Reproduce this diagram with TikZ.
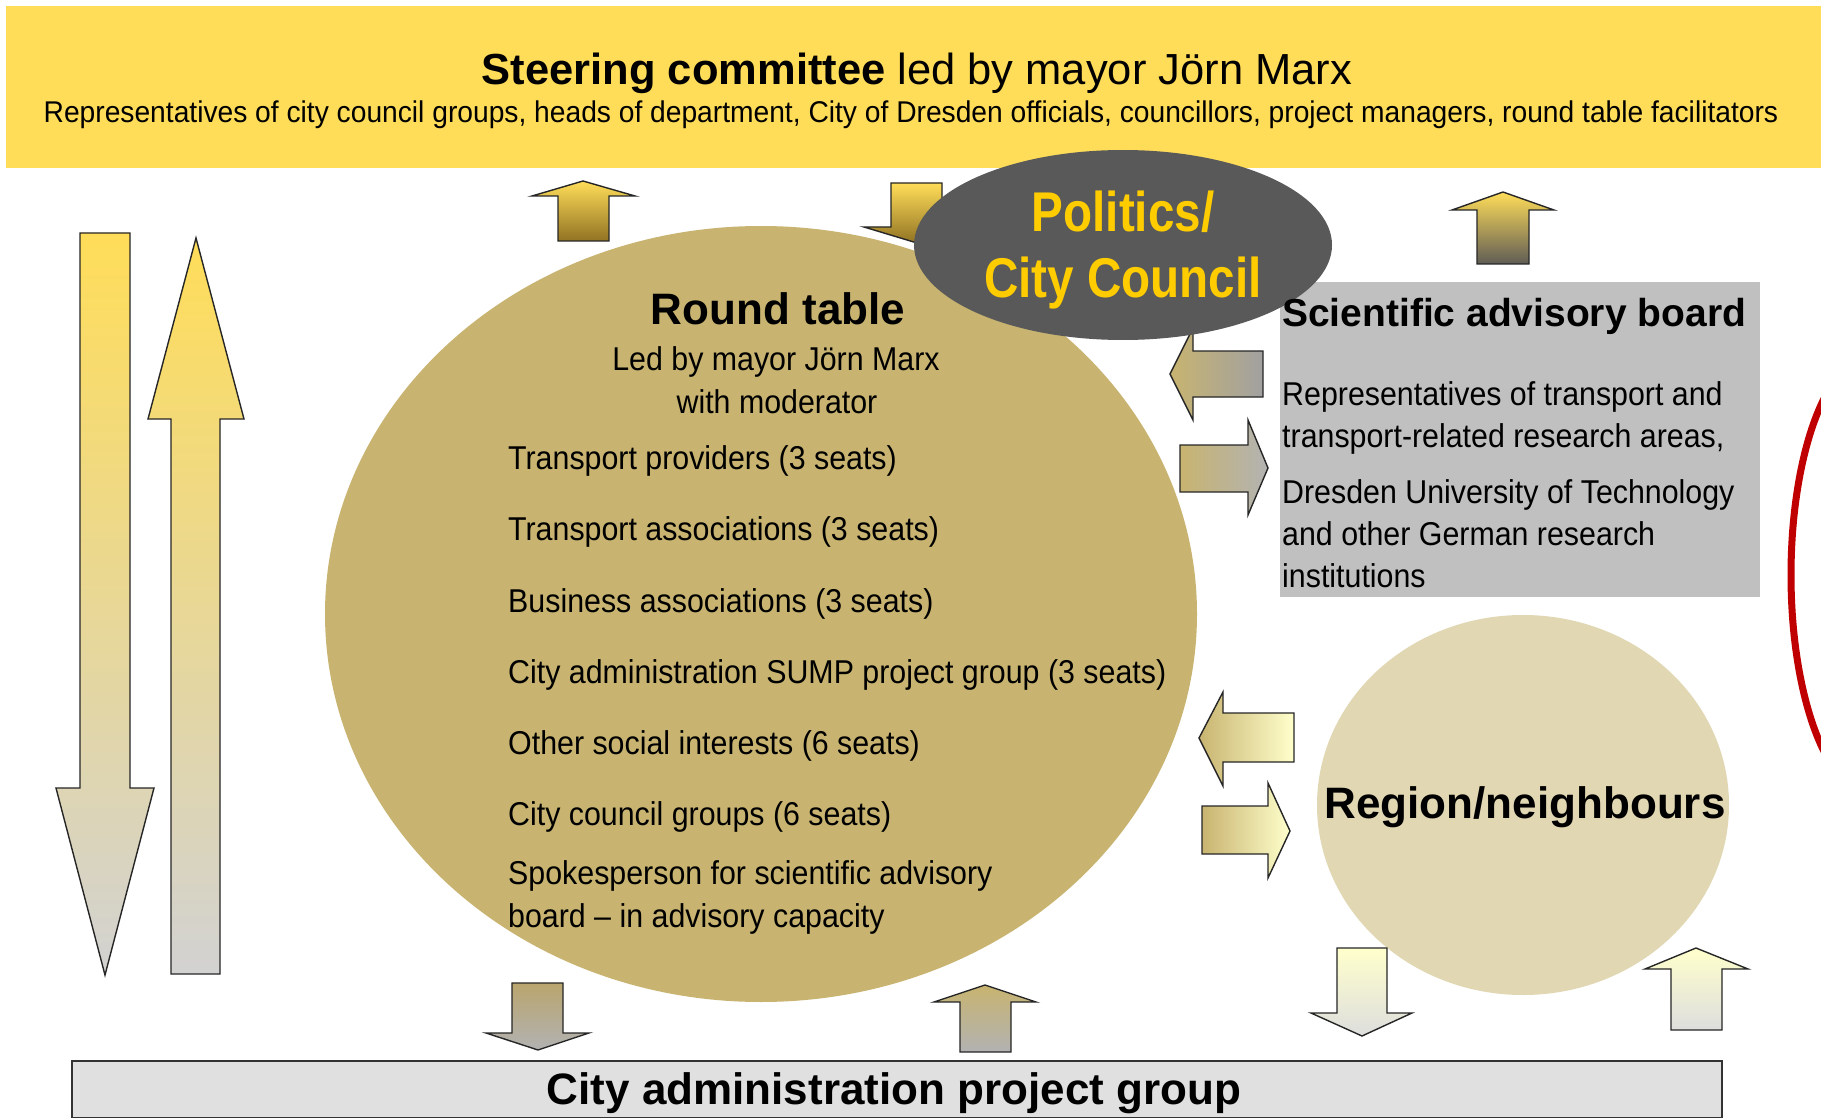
\documentclass[tikz,border=0pt]{standalone}
\usepackage{fontspec}
\setmainfont{Liberation Sans}
\newfontfamily\narrowfont[FakeStretch=0.92]{Liberation Sans}
\newfontfamily\subfont[FakeStretch=0.94]{Liberation Sans}
\newfontfamily\polfont[FakeStretch=0.85]{Liberation Sans}
\usetikzlibrary{shapes.geometric}
\definecolor{banner}{RGB}{255,221,89}
\definecolor{gold}{RGB}{200,180,112}
\definecolor{darkgold}{RGB}{145,115,35}
\definecolor{regionc}{RGB}{225,215,178}
\definecolor{polgray}{RGB}{89,89,89}
\definecolor{polyellow}{RGB}{255,204,0}
\definecolor{sciboxc}{RGB}{192,192,192}
\definecolor{adminbox}{RGB}{224,224,224}
\definecolor{lightyel}{RGB}{255,255,204}
\definecolor{lgray}{RGB}{210,210,210}
\definecolor{mgray}{RGB}{178,178,178}
\definecolor{dgray}{RGB}{95,92,85}
\definecolor{tanc}{RGB}{185,165,110}
\definecolor{redc}{RGB}{192,0,0}
\begin{document}
\begin{tikzpicture}[x=1pt,y=-1pt,
  txt/.style={inner sep=0pt, anchor=base},
  ltxt/.style={inner sep=0pt, anchor=base west},
  body/.style={font=\narrowfont\fontsize{33}{36}\selectfont},
  boldbig/.style={font=\bfseries\fontsize{44}{48}\selectfont},
  arr/.style={draw=black!85, line width=1.4pt, line join=miter}]
\useasboundingbox (0,0) rectangle (1821,1118);
\fill[white] (0,0) rectangle (1821,1118);

% banner
\fill[banner] (6,6) rectangle (1821,168);
\node[txt, font=\fontsize{43.5}{48}\selectfont] (title) at (917,85) {\textbf{Steering committee} led by mayor Jörn Marx};
\node[txt, font=\subfont\fontsize{30}{34}\selectfont] (subtitle) at (911,123) {Representatives of city council groups, heads of department, City of Dresden officials, councillors, project managers, round table facilitators};

% big left arrows
\shade[arr, top color=banner, bottom color=lgray] (80,233) -- (130,233) -- (130,788) -- (154,788) -- (105,975) -- (56,788) -- (80,788) -- cycle;
\shade[arr, top color=banner, bottom color=lgray] (171,974) -- (220,974) -- (220,419) -- (244,419) -- (196,238) -- (148,419) -- (171,419) -- cycle;

% round table
\node[ellipse, fill=gold, minimum width=872pt, minimum height=776pt, inner sep=0pt] (rt) at (761,614) {};

% arrows at top
\shade[arr, top color=banner, bottom color=darkgold] (558,241) -- (609,241) -- (609,196) -- (635,196) -- (583,181) -- (532,196) -- (558,196) -- cycle;
\shade[arr, top color=banner, bottom color=darkgold] (891,183) -- (942,183) -- (942,227) -- (969,227) -- (917,243) -- (864,227) -- (891,227) -- cycle;
\shade[arr, top color=banner, bottom color=dgray] (1477,264) -- (1529,264) -- (1529,210) -- (1554,210) -- (1503,192) -- (1452,210) -- (1477,210) -- cycle;

% scientific advisory board box
\fill[sciboxc] (1280,282) rectangle (1760,597);

% arrows between round table and scientific board
\shade[arr, left color=gold, right color=black!37] (1263,351) -- (1193,351) -- (1193,328) -- (1170,374) -- (1193,420) -- (1193,397) -- (1263,397) -- cycle;
\shade[arr, left color=gold, right color=black!30] (1180,445) -- (1248,445) -- (1248,420) -- (1268,468) -- (1248,515) -- (1248,492) -- (1180,492) -- cycle;

% politics ellipse
\node[ellipse, fill=polgray, minimum width=418pt, minimum height=190pt, inner sep=0pt] (pol) at (1123,245) {};
\node[txt, text=polyellow, font=\polfont\bfseries\fontsize{56}{60}\selectfont] (pol1) at (1123,232) {Politics/};
\node[txt, text=polyellow, font=\polfont\bfseries\fontsize{56}{60}\selectfont] (pol2) at (1123,297) {City Council};

% round table texts
\node[txt, boldbig] (rttitle) at (778,324) {Round table};
\node[txt, body] (rtled) at (776,370) {Led by mayor Jörn Marx};
\node[txt, body] (rtmod) at (777,413) {with moderator};
\node[ltxt, body] (l1) at (508,469) {Transport providers (3 seats)};
\node[ltxt, body] (l2) at (508,540) {Transport associations (3 seats)};
\node[ltxt, body] (l3) at (508,612) {Business associations (3 seats)};
\node[ltxt, body] (l4) at (508,683) {City administration SUMP project group (3 seats)};
\node[ltxt, body] (l5) at (508,754) {Other social interests (6 seats)};
\node[ltxt, body] (l6) at (508,825) {City council groups (6 seats)};
\node[ltxt, body] (l7) at (508,884) {Spokesperson for scientific advisory};
\node[ltxt, body] (l8) at (508,927) {board – in advisory capacity};

% scientific board texts
\node[ltxt, font=\bfseries\fontsize{39}{42}\selectfont] (scititle) at (1282,326) {Scientific advisory board};
\node[ltxt, body] (s1) at (1282,405) {Representatives of transport and};
\node[ltxt, body] (s2) at (1282,447) {transport-related research areas,};
\node[ltxt, body] (s3) at (1282,503) {Dresden University of Technology};
\node[ltxt, body] (s4) at (1282,545) {and other German research};
\node[ltxt, body] (s5) at (1282,587) {institutions};

% region circle
\node[ellipse, fill=regionc, minimum width=412pt, minimum height=380pt, inner sep=0pt] (reg) at (1523,805) {};
\node[txt, boldbig] (regtxt) at (1525,818) {Region/neighbours};

% arrows between round table and region
\shade[arr, left color=gold, right color=lightyel] (1294,713) -- (1223,713) -- (1223,692) -- (1199,738) -- (1223,786) -- (1223,762) -- (1294,762) -- cycle;
\shade[arr, left color=gold, right color=lightyel] (1202,806) -- (1268,806) -- (1268,783) -- (1290,831) -- (1268,878) -- (1268,854) -- (1202,854) -- cycle;

% bottom arrows
\shade[arr, top color=tanc, bottom color=mgray] (512,983) -- (563,983) -- (563,1033) -- (589,1033) -- (538,1050) -- (486,1033) -- (512,1033) -- cycle;
\shade[arr, top color=gold, bottom color=mgray] (960,1052) -- (1011,1052) -- (1011,1002) -- (1036,1002) -- (985,985) -- (934,1002) -- (960,1002) -- cycle;
\shade[arr, top color=lightyel, bottom color=black!13] (1337,948) -- (1387,948) -- (1387,1013) -- (1412,1013) -- (1362,1036) -- (1311,1013) -- (1337,1013) -- cycle;
\shade[arr, top color=lightyel, bottom color=black!13] (1671,1030) -- (1722,1030) -- (1722,969) -- (1748,969) -- (1696,948) -- (1645,969) -- (1671,969) -- cycle;

% city administration project group box
\node[draw=black!80, line width=2pt, fill=adminbox, minimum width=1650pt, minimum height=57pt, inner sep=0pt, anchor=north west] (admin) at (71,1060) {};
\node[txt, boldbig] (admintxt) at (894,1104) {City administration project group};

% red ellipse at the right edge
\begin{scope}
\clip (0,0) rectangle (1821,1118);
\draw[redc, line width=7pt] (1873,575) ellipse [x radius=82, y radius=220];
\end{scope}
\end{tikzpicture}
\end{document}
